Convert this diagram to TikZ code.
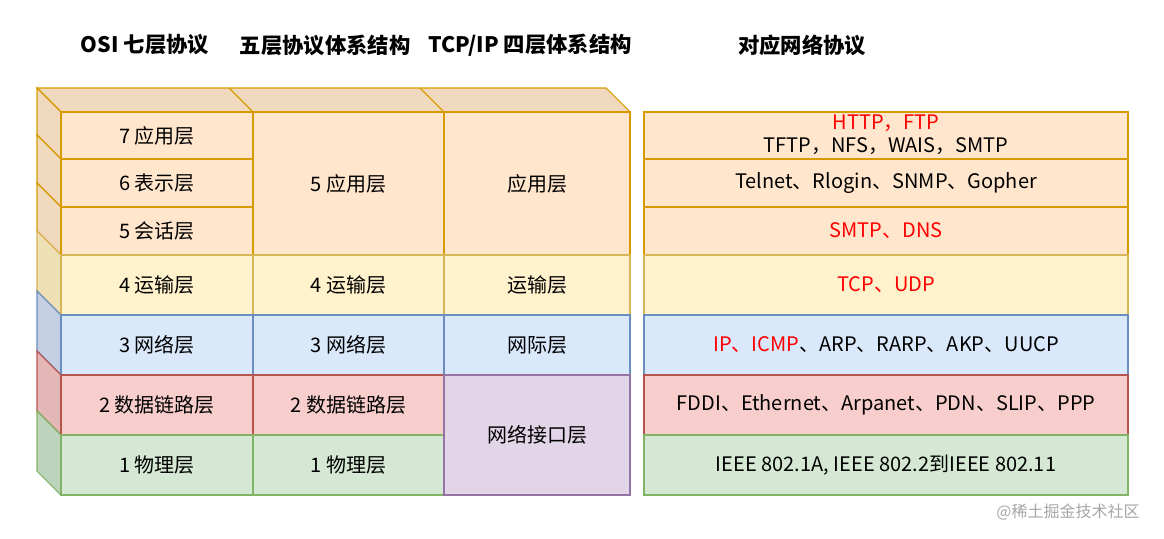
\documentclass[tikz,border=0pt]{standalone}
\usepackage{fontspec}
\setmainfont{Noto Sans CJK SC}
\begin{document}
\begin{tikzpicture}[x=0.75pt,y=-0.75pt,
  t/.style={font=\fontsize{15}{17}\selectfont},
  h/.style={font=\fontsize{16}{18}\selectfont\bfseries},
  cell/.style={draw,line width=0.8pt}]
\useasboundingbox (0,0) rectangle (1164,539);
\definecolor{oF}{HTML}{FFE6CC}\definecolor{oS}{HTML}{D79B00}\definecolor{oD}{HTML}{F0D9BE}
\definecolor{yF}{HTML}{FFF2CC}\definecolor{yS}{HTML}{D6B656}\definecolor{yD}{HTML}{EEDFB5}
\definecolor{bF}{HTML}{DAE8FC}\definecolor{bS}{HTML}{6C8EBF}\definecolor{bD}{HTML}{C3D0E4}
\definecolor{rF}{HTML}{F8CECC}\definecolor{rS}{HTML}{B85450}\definecolor{rD}{HTML}{E2B7B5}
\definecolor{gF}{HTML}{D5E8D4}\definecolor{gS}{HTML}{82B366}\definecolor{gD}{HTML}{BED3BC}
\definecolor{pF}{HTML}{E1D5E7}\definecolor{pS}{HTML}{9673A6}
\definecolor{red1}{HTML}{FF0000}
% headers
\node[h] (h1) at (145,45) {OSI 七层协议};
\node[h] (h2) at (325,45) {五层协议体系结构};
\node[h] (h3) at (530,45) {TCP/IP 四层体系结构};
\node[h] (h4) at (802,45) {对应网络协议};
% top face
\draw[cell,fill=oD,draw=oS] (61,112)--(37,88)--(606,88)--(630,112)--cycle;
\draw[oS,line width=0.8pt] (253,112)--(229,88) (444,112)--(420,88);
% side faces
\foreach \a/\b/\f/\s in {112/159/oD/oS,159/207/oD/oS,207/255/oD/oS,255/315/yD/yS,315/375/bD/bS,375/435/rD/rS,435/495/gD/gS}
  \draw[cell,fill=\f,draw=\s] (61,\a)--(37,\a-24)--(37,\b-24)--(61,\b)--cycle;
% column 1
\foreach \a/\b/\f/\s/\txt [count=\i] in {112/159/oF/oS/7 应用层,159/207/oF/oS/6 表示层,207/255/oF/oS/5 会话层,255/315/yF/yS/4 运输层,315/375/bF/bS/3 网络层,375/435/rF/rS/2 数据链路层,435/495/gF/gS/1 物理层}
  \draw[cell,fill=\f,draw=\s] (61,\a) rectangle (253,\b) node[t,midway,text=black] (c1\i) {\txt};
% column 2
\draw[cell,fill=oF,draw=oS] (253,112) rectangle (444,255) node[t,midway] (c21) {5 应用层};
\foreach \a/\b/\f/\s/\txt [count=\i] in {255/315/yF/yS/4 运输层,315/375/bF/bS/3 网络层,375/435/rF/rS/2 数据链路层,435/495/gF/gS/1 物理层}
  \draw[cell,fill=\f,draw=\s] (253,\a) rectangle (444,\b) node[t,midway,text=black] (c2\i x) {\txt};
% column 3
\draw[cell,fill=oF,draw=oS] (444,112) rectangle (630,255) node[t,midway] (c31) {应用层};
\draw[cell,fill=yF,draw=yS] (444,255) rectangle (630,315) node[t,midway] (c32) {运输层};
\draw[cell,fill=bF,draw=bS] (444,315) rectangle (630,375) node[t,midway] (c33) {网际层};
\draw[cell,fill=pF,draw=pS] (444,375) rectangle (630,495) node[t,midway] (c34) {网络接口层};
% right table
\draw[cell,fill=oF,draw=oS] (644,112) rectangle (1128,159) node[midway] (r1) {};
\node[t,text=red1] (r1a) at (886,123) {HTTP，FTP};
\node[t] (r1b) at (886,146) {TFTP，NFS，WAIS，SMTP};
\draw[cell,fill=oF,draw=oS] (644,159) rectangle (1128,207) node[t,midway] (r2) {Telnet、Rlogin、SNMP、Gopher};
\draw[cell,fill=oF,draw=oS] (644,207) rectangle (1128,255) node[t,midway,text=red1] (r3) {SMTP、DNS};
\draw[cell,fill=yF,draw=yS] (644,255) rectangle (1128,315) node[t,midway,text=red1] (r4) {TCP、UDP};
\draw[cell,fill=bF,draw=bS] (644,315) rectangle (1128,375) node[t,midway] (r5) {\textcolor{red1}{IP、ICMP}、ARP、RARP、AKP、UUCP};
\draw[cell,fill=rF,draw=rS] (644,375) rectangle (1128,435) node[t,midway] (r6) {FDDI、Ethernet、Arpanet、PDN、SLIP、PPP};
\draw[cell,fill=gF,draw=gS] (644,435) rectangle (1128,495) node[t,midway] (r7) {IEEE 802.1A, IEEE 802.2到IEEE 802.11};
% watermark
\node[text=black!35,font=\fontsize{12}{13}\selectfont] (wm) at (1068,512) {@稀土掘金技术社区};
\end{tikzpicture}
\end{document}
